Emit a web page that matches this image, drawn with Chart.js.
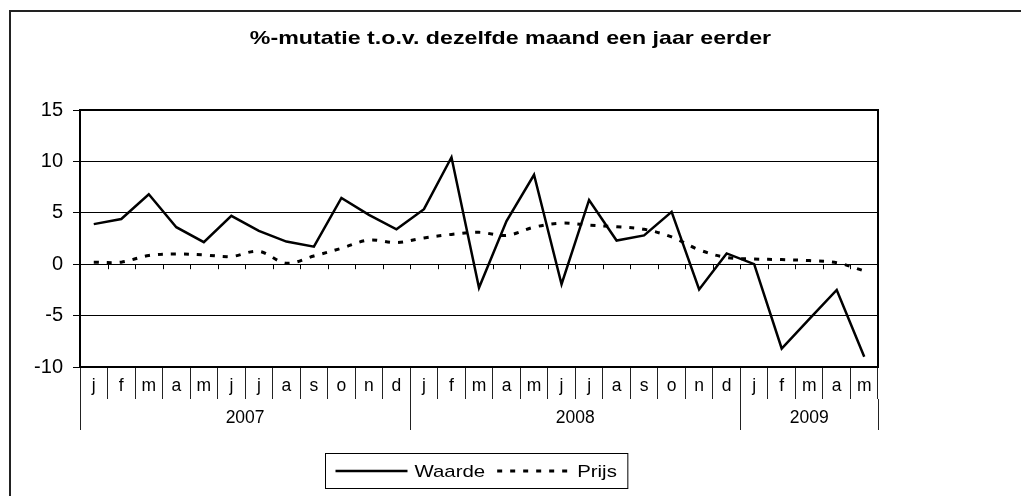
<!DOCTYPE html>
<html>
<head>
<meta charset="utf-8">
<script src="https://cdn.jsdelivr.net/npm/chart.js@4/dist/chart.umd.min.js"></script>
<style>
  html, body { margin: 0; padding: 0; background: #fff; overflow: hidden; }
  #frame { position: absolute; left: 9px; top: 10px; width: 1100px; height: 600px; border: 2px solid #222; }
  #wrap { position: absolute; left: 0; top: 0; width: 1021px; height: 496px; }
</style>
</head>
<body>
<div id="frame"></div>
<div id="wrap"><canvas id="chart" width="1021" height="496"></canvas></div>
<script>
const TITLE = '%-mutatie t.o.v. dezelfde maand een jaar eerder';
const months = ['j','f','m','a','m','j','j','a','s','o','n','d',
                'j','f','m','a','m','j','j','a','s','o','n','d',
                'j','f','m','a','m'];
const years = ['2007', '2008', '2009'];
const monthsPerYear = [12, 12, 5];
const waarde = [3.9, 4.4, 6.8, 3.6, 2.15, 4.7, 3.25, 2.2, 1.7, 6.45, 4.8, 3.4,
                5.35, 10.4, -2.3, 4.2, 8.7, -1.95, 6.25, 2.3, 2.8, 5.1, -2.45, 1.05,
                0, -8.2, -5.35, -2.5, -9.0];
const prijs = [0.2, 0.2, 0.85, 1.0, 0.9, 0.75, 1.25, 0.1, 0.8, 1.55, 2.35, 2.1,
               2.55, 2.9, 3.1, 2.8, 3.6, 4.0, 3.8, 3.65, 3.4, 2.65, 1.4, 0.65,
               0.5, 0.45, 0.35, 0.15, -0.65];
const yTicks = [-10, -5, 0, 5, 10, 15];

// year boundaries / centres on the month index axis
const yearEdges = [0];
monthsPerYear.forEach(n => yearEdges.push(yearEdges[yearEdges.length - 1] + n));
const yearMid = years.map((y, i) => (yearEdges[i] + yearEdges[i + 1]) / 2);

const FONT = "'Liberation Sans', Arial, sans-serif";
const DASH = [5, 8];

const titlePlugin = {
  id: 'stretchedTitle',
  afterDraw(chart) {
    const ctx = chart.ctx;
    ctx.save();
    ctx.font = 'bold 19px ' + FONT;
    ctx.fillStyle = '#000';
    ctx.textAlign = 'center';
    ctx.textBaseline = 'middle';
    ctx.translate(chart.width / 2, 39);
    ctx.scale(1.22, 1);
    ctx.fillText(TITLE, 0, 0);
    ctx.restore();
  }
};

const framePlugin = {
  id: 'plotFrame',
  afterDraw(chart) {
    const { ctx, chartArea: a } = chart;
    const xs = chart.scales.x, ys = chart.scales.y;
    ctx.save();
    // small ticks on the zero line at month boundaries
    const y0 = ys.getPixelForValue(0);
    ctx.strokeStyle = '#000';
    ctx.lineWidth = 1;
    ctx.beginPath();
    for (let i = 0; i <= months.length; i++) {
      const x = Math.round((xs.getPixelForValue(i) + xs.getPixelForValue(i - 1)) / 2) + 0.5;
      ctx.moveTo(x, y0);
      ctx.lineTo(x, y0 + 5);
    }
    ctx.stroke();
    ctx.lineWidth = 2;
    ctx.strokeRect(a.left, a.top, a.right - a.left, a.bottom - a.top);
    ctx.restore();
  }
};

const legendPlugin = {
  id: 'boxLegend',
  afterDraw(chart) {
    const ctx = chart.ctx;
    const a = chart.chartArea;
    const sx = 1.2, sample = 72;
    ctx.save();
    ctx.font = '17px ' + FONT;
    const items = chart.data.datasets.map(ds => ({ ds, tw: ctx.measureText(ds.label).width * sx }));
    const gaps = [10, 7, 12, 8, 11];
    const total = gaps.reduce((s, g) => s + g, 0) + sample * 2 + items[0].tw + items[1].tw;
    const left = Math.round((a.left + a.right) / 2 - total / 2 - 3) + 0.5;
    const top = chart.height - 42.5, h = 35;
    ctx.strokeStyle = '#000';
    ctx.lineWidth = 1;
    ctx.strokeRect(left, top, total, h);
    const cy = top + h / 2;
    let x = left + gaps[0];
    items.forEach((it, i) => {
      ctx.beginPath();
      ctx.setLineDash(it.ds.borderDash || []);
      ctx.lineWidth = it.ds.borderWidth;
      ctx.moveTo(x, cy);
      ctx.lineTo(x + sample, cy);
      ctx.stroke();
      ctx.setLineDash([]);
      x += sample + gaps[1 + i * 2];
      ctx.save();
      ctx.translate(x, cy);
      ctx.scale(sx, 1);
      ctx.fillStyle = '#000';
      ctx.textBaseline = 'middle';
      ctx.fillText(it.ds.label, 0, 1);
      ctx.restore();
      x += it.tw + gaps[2 + i * 2];
    });
    ctx.restore();
  }
};

new Chart(document.getElementById('chart'), {
  type: 'line',
  data: {
    labels: months,
    datasets: [
      { label: 'Waarde', data: waarde, borderColor: '#000', borderWidth: 2.5,
        pointRadius: 0, tension: 0, fill: false },
      { label: 'Prijs', data: prijs, borderColor: '#000', borderWidth: 3,
        borderDash: DASH, pointRadius: 0, tension: 0.35, fill: false }
    ]
  },
  options: {
    responsive: false,
    animation: false,
    layout: { padding: { top: 110, right: 143, left: 0, bottom: 66 } },
    plugins: { legend: { display: false }, title: { display: false }, tooltip: { enabled: false } },
    scales: {
      y: {
        min: -10, max: 15,
        afterBuildTicks: s => { s.ticks = yTicks.map(v => ({ value: v })); },
        afterFit: s => { s.width = 80; },
        grid: { color: '#000', lineWidth: 1, tickLength: 7 },
        border: { display: false },
        ticks: { color: '#000', padding: 10, font: { family: FONT, size: 20 } }
      },
      x: {
        type: 'category',
        offset: true,
        afterFit: s => { s.height = 32; },
        grid: { offset: true, drawOnChartArea: false, tickLength: 32, color: '#222', lineWidth: 1 },
        border: { display: false },
        ticks: { color: '#000', padding: -23, autoSkip: false, maxRotation: 0,
                 font: { family: FONT, size: 17.5 } }
      },
      x2: {
        type: 'linear',
        position: 'bottom',
        min: 0, max: months.length,
        afterBuildTicks: s => {
          s.ticks = yearEdges.concat(yearMid).sort((p, q) => p - q).map(v => ({ value: v }));
        },
        afterFit: s => { s.height = 31; },
        grid: { drawOnChartArea: false, tickLength: 31, lineWidth: 1,
                color: c => yearEdges.includes(c.tick && c.tick.value) ? '#222' : 'rgba(0,0,0,0)' },
        border: { display: false },
        ticks: {
          color: '#000', padding: -22, autoSkip: false, maxRotation: 0,
          font: { family: FONT, size: 17.5 },
          callback: v => { const i = yearMid.indexOf(v); return i >= 0 ? years[i] : ''; }
        }
      }
    }
  },
  plugins: [titlePlugin, framePlugin, legendPlugin]
});
</script>
</body>
</html>
